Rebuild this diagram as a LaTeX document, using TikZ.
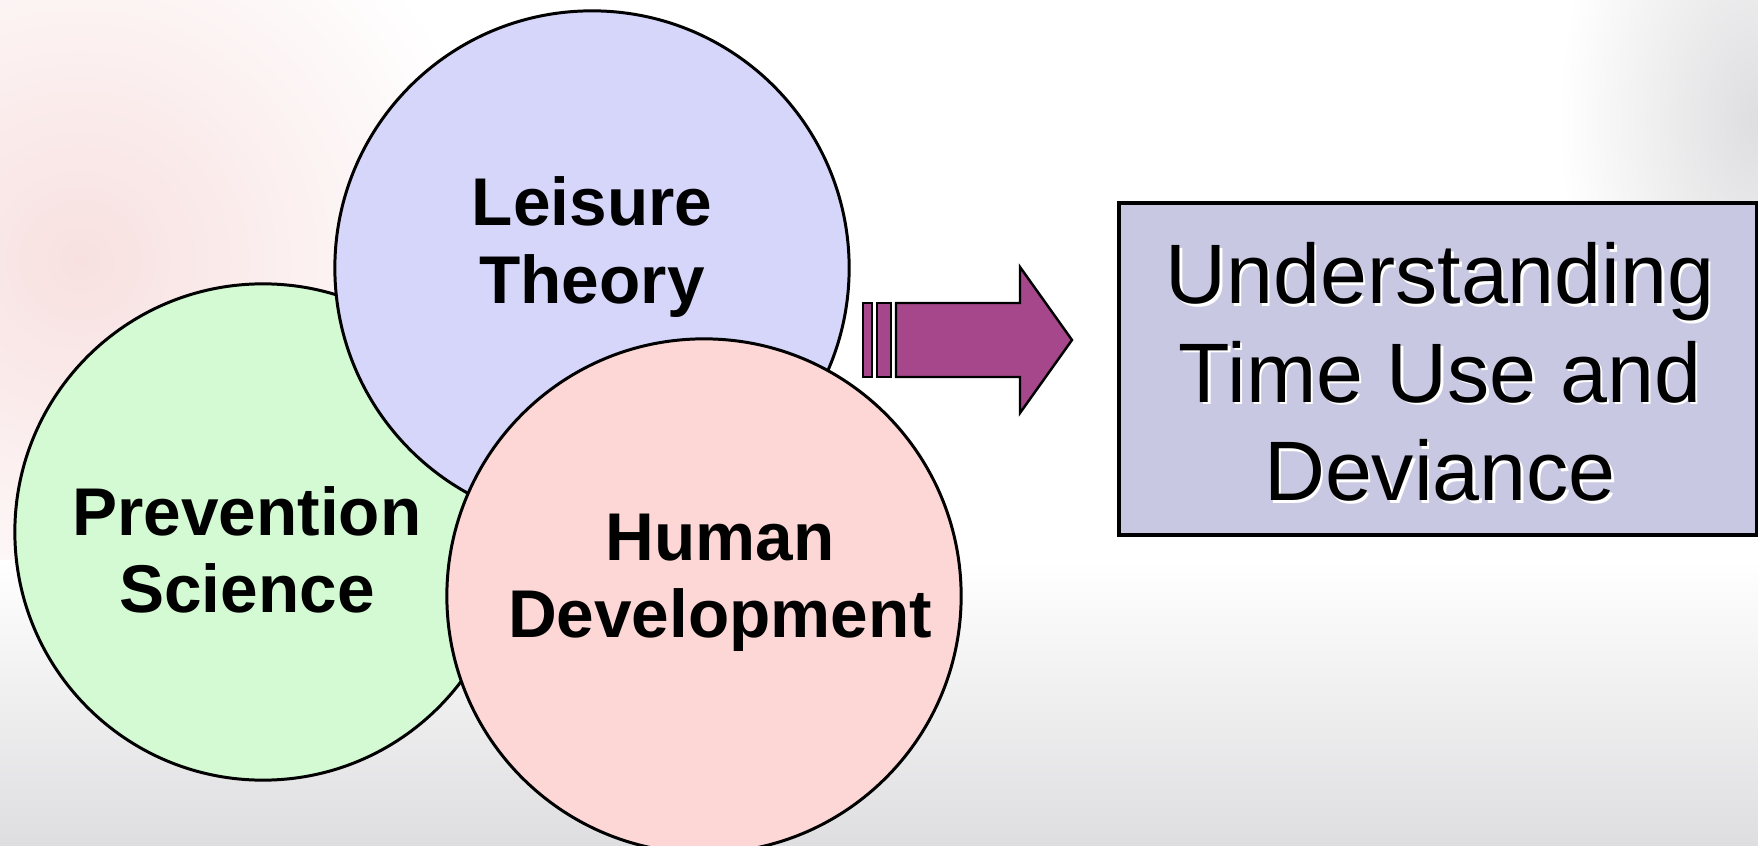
\documentclass[tikz,border=0pt]{standalone}
\usepackage{fontspec}
\setmainfont{Liberation Sans}
\usetikzlibrary{positioning}

\definecolor{bgpink}{HTML}{F8E0E0}
\definecolor{bggray}{HTML}{DEDEE0}
\definecolor{greenfill}{HTML}{D4FAD4}
\definecolor{bluefill}{HTML}{D6D6FA}
\definecolor{pinkfill}{HTML}{FDD6D6}
\definecolor{arrowfill}{HTML}{A5478A}
\definecolor{boxfill}{HTML}{C8C8E3}

\begin{document}
\begin{tikzpicture}[x=0.01cm, y=-0.01cm,
    main/.style = {draw, circle, line width=0.85pt, inner sep=0pt},
    field/.style = {align=center, font=\fontsize{19.2}{22}\selectfont\bfseries},
    goal/.style = {align=center, font=\fontsize{24}{28}\selectfont}]

    \useasboundingbox (0,0) rectangle (1758,846);
    \fill[white] (0,0) rectangle (1758,846);

    % hazy backdrop
    \shade[inner color=bgpink, outer color=white] (80,260) ellipse (420 and 420);
    \shade[top color=white, bottom color=bggray] (0,560) rectangle (1758,846);
    \shade[inner color=bggray, outer color=white] (1758,120) ellipse (200 and 330);

    % the three fields
    \node[main, fill=greenfill, minimum size=4.96cm] (prev) at (263,532) {};
    \node[main, fill=bluefill, minimum size=5.14cm] (leis) at (592,268) {};
    \node[main, fill=pinkfill, minimum size=5.14cm] (hum) at (704,596) {};

    \node[field] (leislabel) at (592,247) {Leisure\\Theory};
    \node[field] (prevlabel) at (247,550) {Prevention\\Science};
    \node[field] (humlabel) at (720,583) {Human\\Development};

    % striped block arrow
    \draw[fill=arrowfill, line width=0.7pt] (863,303) rectangle (872,377);
    \draw[fill=arrowfill, line width=0.7pt] (877,303) rectangle (891,377);
    \draw[fill=arrowfill, line width=0.7pt, line join=miter]
        (896,303) -- (1020,303) -- (1020,267) -- (1072,340)
        -- (1020,413) -- (1020,377) -- (896,377) -- cycle;

    % outcome box
    \node[draw, fill=boxfill, line width=1pt, minimum width=6.38cm,
        minimum height=3.32cm, inner sep=0pt] (box) at (1438,369) {};
    \node[goal, white] at (1442.5,374.5) {Understanding\\Time Use and\\Deviance};
    \node[goal] (goaltext) at (1440,372) {Understanding\\Time Use and\\Deviance};

\end{tikzpicture}
\end{document}
